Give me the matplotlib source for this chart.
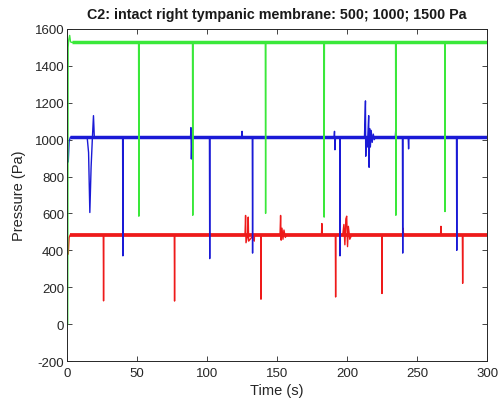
import matplotlib
matplotlib.use("Agg")
import matplotlib.pyplot as plt

plt.rcParams['font.family'] = ['Liberation Sans', 'DejaVu Sans']
plt.rcParams['axes.unicode_minus'] = False

title = "C2: intact right tympanic membrane: 500; 1000; 1500 Pa"
x_ticks = [0, 50, 100, 150, 200, 250, 300]
y_ticks = [-200, 0, 200, 400, 600, 800, 1000, 1200, 1400, 1600]

# Green trace (1500 Pa)
green_t = [0.6, 0.9, 1.3, 2.0, 2.6, 3.5,
           51.2, 51.4, 51.6,
           89.7, 89.9, 90.1,
           141.7, 141.9, 142.1,
           183.5, 183.7, 183.9,
           234.7, 234.9, 235.1,
           269.8, 270.0, 270.2,
           300.0]
green_p = [0, 1500, 1540, 1565, 1530, 1527,
           1527, 585, 1527,
           1527, 590, 1527,
           1527, 600, 1527,
           1527, 580, 1527,
           1527, 590, 1527,
           1527, 610, 1527,
           1527]
green_base = 1527

# Blue trace (1000 Pa)
blue_t = [1.0, 1.6, 2.5,
          14.5, 15.5, 16.4, 17.3, 18.2, 19.0, 19.6,
          39.8, 40.0, 40.2,
          88.3, 88.6, 88.9, 89.3,
          101.8, 102.0, 102.2,
          124.8, 125.1, 125.4,
          132.4, 132.6, 132.8,
          190.8, 191.1, 191.4, 191.8,
          194.8, 195.0, 195.2,
          212.5, 213.2, 213.4, 213.8, 214.6, 215.0, 215.5, 215.8, 216.2,
          216.7, 217.3, 218.0, 218.8, 219.5, 220.3,
          234.5, 234.8, 235.1,
          239.6, 239.8, 240.0,
          243.7, 244.0, 244.3,
          278.2, 278.4, 278.6,
          300.0]
blue_p = [880, 990, 1013,
          1013, 930, 605, 850, 1005, 1130, 1013,
          1013, 370, 1013,
          1013, 1065, 895, 1013,
          1013, 355, 1013,
          1013, 1045, 1013,
          1013, 385, 1013,
          1013, 1045, 945, 1013,
          1013, 370, 1013,
          1013, 1210, 910, 1013, 960, 1040, 1130, 850, 1060,
          960, 1050, 985, 1030, 1000, 1013,
          1013, 1050, 1013,
          1013, 385, 1013,
          1013, 950, 1013,
          1013, 400, 1013,
          1013]
blue_base = 1013

# Red trace (500 Pa)
red_t = [1.0, 1.6, 2.5,
         26.0, 26.2, 26.4,
         76.7, 76.9, 77.1,
         127.2, 127.6, 127.9, 129.2, 129.5, 129.8,
         133.6, 133.8, 134.0,
         138.4, 138.6, 138.8,
         152.2, 152.6, 153.0, 153.6, 154.3, 155.0, 156.0, 157.0,
         181.8, 182.1, 182.4,
         191.7, 191.9, 192.1,
         197.0, 197.8, 198.5, 199.2, 199.8, 200.4, 201.0, 202.0, 203.5,
         224.8, 225.0, 225.2,
         239.8, 240.1, 240.4,
         266.8, 267.1, 267.4,
         282.4, 282.6, 282.8,
         300.0]
red_p = [380, 470, 485,
         485, 126, 485,
         485, 125, 485,
         485, 589, 441, 485, 580, 450,
         485, 450, 485,
         485, 135, 485,
         485, 589, 455, 520, 460, 510, 470, 485,
         485, 545, 485,
         485, 147, 485,
         485, 540, 430, 570, 585, 420, 530, 460, 485,
         485, 166, 485,
         485, 520, 485,
         485, 530, 485,
         485, 221, 485,
         485]
red_base = 485

fig = plt.figure(figsize=(4.99, 4.02), dpi=100)
ax = fig.add_axes([0.134, 0.0995, 0.842, 0.826])

c_red, c_blue, c_green = '#ee1a1a', '#1a1ad6', '#3ae83a'

# baseline noise bands (trace thickness) then thin traces
ax.plot([red_t[2], red_t[-1]], [red_base, red_base], color=c_red, lw=2.7, solid_capstyle='butt')
ax.plot(red_t, red_p, color=c_red, lw=1.0)
ax.plot([blue_t[2], blue_t[-1]], [blue_base, blue_base], color=c_blue, lw=2.5, solid_capstyle='butt')
ax.plot(blue_t, blue_p, color=c_blue, lw=1.0)
ax.plot([green_t[5], green_t[-1]], [green_base, green_base], color=c_green, lw=2.5, solid_capstyle='butt')
ax.plot(green_t, green_p, color=c_green, lw=1.0)

ax.set_xlim(0, 300)
ax.set_ylim(-200, 1600)
ax.set_xticks(x_ticks)
ax.set_yticks(y_ticks)
ax.tick_params(direction='in', length=3.5, width=0.6, top=True, right=True,
               labelsize=9.5, colors='#262626')
ax.tick_params(axis='y', pad=2)
ax.tick_params(axis='x', pad=4)
for s in ax.spines.values():
    s.set_color('#262626')
    s.set_linewidth(0.7)

ax.set_xlabel("Time (s)", fontsize=10.5, color='#262626', labelpad=3)
ax.set_ylabel("Pressure (Pa)", fontsize=10.5, color='#262626', labelpad=6)
ax.set_title(title, fontsize=10.3, fontweight='bold', color='#1a1a1a', pad=8)

fig.savefig("out.png", dpi=100)
